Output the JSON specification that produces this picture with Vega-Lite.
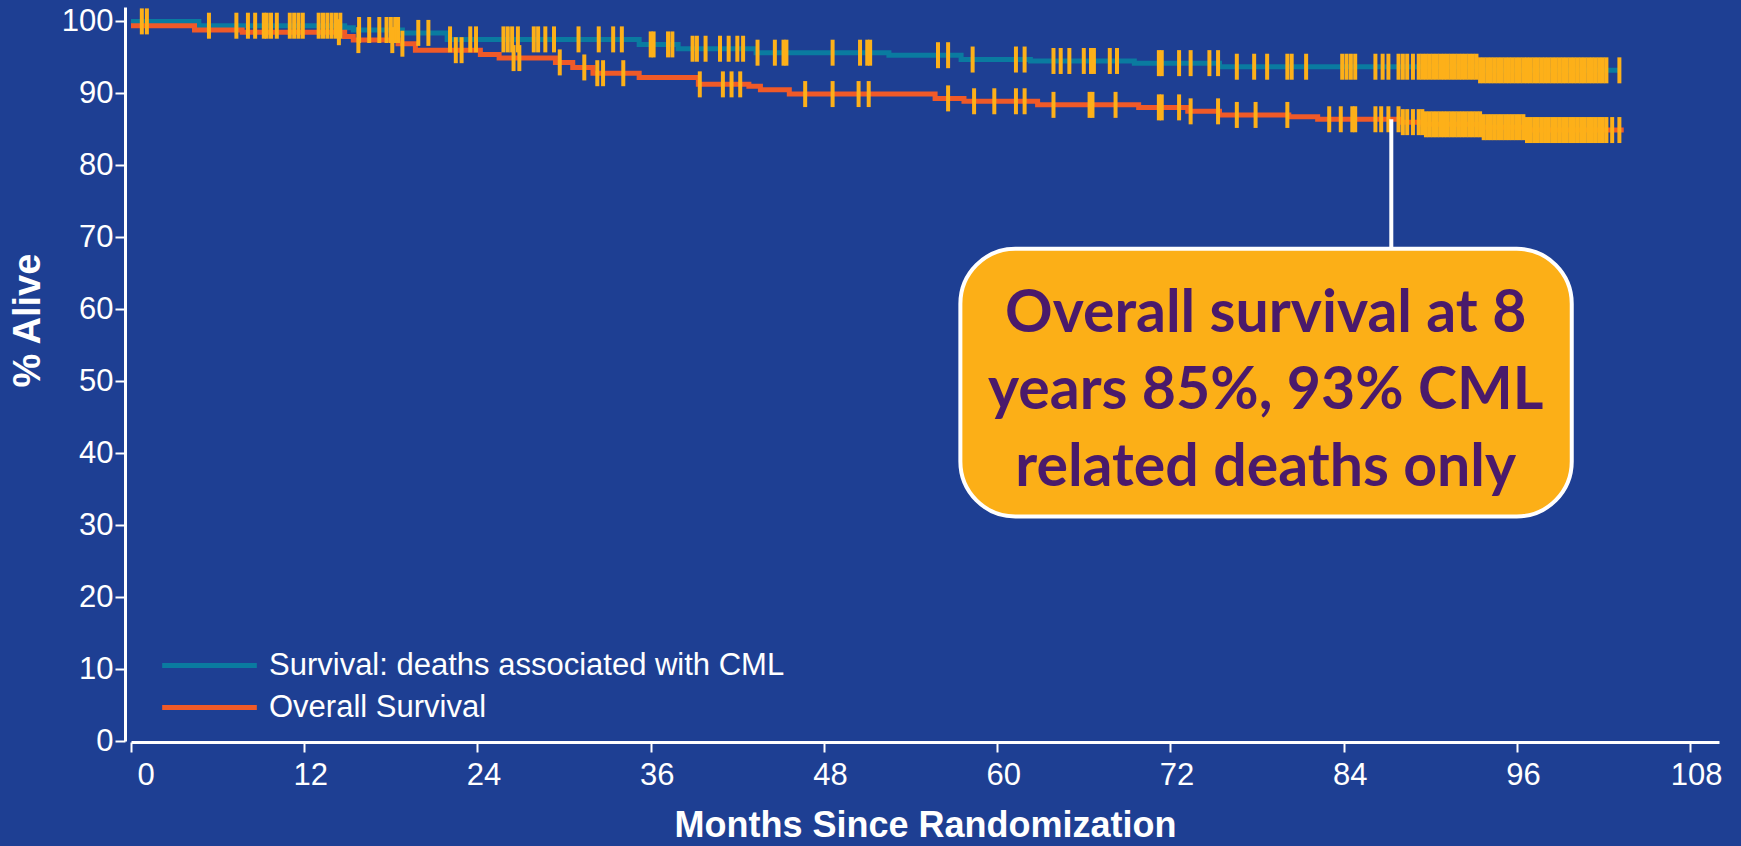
{
  "$schema": "https://vega.github.io/schema/vega-lite/v6.json",
  "width": 1588,
  "height": 734,
  "autosize": {"type": "none"},
  "padding": {"left": 131, "top": 7, "right": 22, "bottom": 105},
  "background": "#1E3F93",
  "config": {"view": {"stroke": null}, "font": "Liberation Sans"},
  "datasets": {
    "curves": [
      {"g": "Survival: deaths associated with CML", "t": 0, "s": 100},
      {"g": "Survival: deaths associated with CML", "t": 4.7, "s": 99.4},
      {"g": "Survival: deaths associated with CML", "t": 14.8, "s": 99.1},
      {"g": "Survival: deaths associated with CML", "t": 15.4, "s": 98.8},
      {"g": "Survival: deaths associated with CML", "t": 18.8, "s": 98.4},
      {"g": "Survival: deaths associated with CML", "t": 21.9, "s": 97.5},
      {"g": "Survival: deaths associated with CML", "t": 35.2, "s": 96.8},
      {"g": "Survival: deaths associated with CML", "t": 37.9, "s": 96.2},
      {"g": "Survival: deaths associated with CML", "t": 43.3, "s": 95.65},
      {"g": "Survival: deaths associated with CML", "t": 52.5, "s": 95.3},
      {"g": "Survival: deaths associated with CML", "t": 57.5, "s": 94.7},
      {"g": "Survival: deaths associated with CML", "t": 62.3, "s": 94.5},
      {"g": "Survival: deaths associated with CML", "t": 69.5, "s": 94.2},
      {"g": "Survival: deaths associated with CML", "t": 75.4, "s": 93.7},
      {"g": "Survival: deaths associated with CML", "t": 93.4, "s": 93.2},
      {"g": "Survival: deaths associated with CML", "t": 103.1, "s": 93.2},
      {"g": "Overall Survival", "t": 0, "s": 99.4},
      {"g": "Overall Survival", "t": 4.4, "s": 98.8},
      {"g": "Overall Survival", "t": 7.7, "s": 98.5},
      {"g": "Overall Survival", "t": 14.8, "s": 97.9},
      {"g": "Overall Survival", "t": 15.4, "s": 97.4},
      {"g": "Overall Survival", "t": 18.5, "s": 96.9},
      {"g": "Overall Survival", "t": 19.7, "s": 96.0},
      {"g": "Overall Survival", "t": 24.2, "s": 95.4},
      {"g": "Overall Survival", "t": 25.5, "s": 94.9},
      {"g": "Overall Survival", "t": 29.4, "s": 94.3},
      {"g": "Overall Survival", "t": 30.6, "s": 93.6},
      {"g": "Overall Survival", "t": 32.0, "s": 92.8},
      {"g": "Overall Survival", "t": 35.2, "s": 92.2},
      {"g": "Overall Survival", "t": 39.3, "s": 91.25},
      {"g": "Overall Survival", "t": 42.8, "s": 91.0},
      {"g": "Overall Survival", "t": 43.6, "s": 90.5},
      {"g": "Overall Survival", "t": 45.6, "s": 89.9},
      {"g": "Overall Survival", "t": 55.7, "s": 89.3},
      {"g": "Overall Survival", "t": 57.7, "s": 88.9},
      {"g": "Overall Survival", "t": 62.8, "s": 88.4},
      {"g": "Overall Survival", "t": 69.8, "s": 88.05},
      {"g": "Overall Survival", "t": 73.2, "s": 87.5},
      {"g": "Overall Survival", "t": 75.4, "s": 87.0},
      {"g": "Overall Survival", "t": 80.2, "s": 86.75},
      {"g": "Overall Survival", "t": 82.2, "s": 86.4},
      {"g": "Overall Survival", "t": 88.0, "s": 86.0},
      {"g": "Overall Survival", "t": 89.5, "s": 85.7},
      {"g": "Overall Survival", "t": 93.5, "s": 85.3},
      {"g": "Overall Survival", "t": 96.6, "s": 84.9},
      {"g": "Overall Survival", "t": 103.4, "s": 84.9}
    ],
    "censor": [
      {"t": 0.75, "s": 100}, {"t": 1.1, "s": 100}, {"t": 5.4, "s": 99.4}, {"t": 7.3, "s": 99.4},
      {"t": 8.1, "s": 99.4}, {"t": 8.6, "s": 99.4}, {"t": 9.2, "s": 99.4}, {"t": 9.4, "s": 99.4},
      {"t": 9.7, "s": 99.4}, {"t": 10.1, "s": 99.4}, {"t": 11.0, "s": 99.4}, {"t": 11.3, "s": 99.4},
      {"t": 11.6, "s": 99.4}, {"t": 11.9, "s": 99.4}, {"t": 13.0, "s": 99.4}, {"t": 13.3, "s": 99.4},
      {"t": 13.6, "s": 99.4}, {"t": 13.9, "s": 99.4}, {"t": 14.2, "s": 99.4}, {"t": 14.5, "s": 99.4},
      {"t": 15.8, "s": 98.8}, {"t": 16.5, "s": 98.8}, {"t": 17.2, "s": 98.8}, {"t": 17.7, "s": 98.8},
      {"t": 18.0, "s": 98.8}, {"t": 18.3, "s": 98.8}, {"t": 18.5, "s": 98.8}, {"t": 19.9, "s": 98.4},
      {"t": 20.6, "s": 98.4}, {"t": 22.1, "s": 97.5}, {"t": 23.5, "s": 97.5}, {"t": 23.9, "s": 97.5},
      {"t": 25.8, "s": 97.5}, {"t": 26.1, "s": 97.5}, {"t": 26.4, "s": 97.5}, {"t": 26.8, "s": 97.5},
      {"t": 27.9, "s": 97.5}, {"t": 28.2, "s": 97.5}, {"t": 28.7, "s": 97.5}, {"t": 29.3, "s": 97.5},
      {"t": 31.0, "s": 97.5}, {"t": 32.4, "s": 97.5}, {"t": 33.4, "s": 97.5}, {"t": 34.0, "s": 97.5},
      {"t": 36.0, "s": 96.8}, {"t": 36.2, "s": 96.8}, {"t": 37.2, "s": 96.8}, {"t": 37.5, "s": 96.8},
      {"t": 38.9, "s": 96.2}, {"t": 39.2, "s": 96.2}, {"t": 39.8, "s": 96.2}, {"t": 40.8, "s": 96.2},
      {"t": 41.4, "s": 96.2}, {"t": 42.0, "s": 96.2}, {"t": 42.4, "s": 96.2}, {"t": 43.4, "s": 95.65},
      {"t": 44.6, "s": 95.65}, {"t": 45.2, "s": 95.65}, {"t": 45.4, "s": 95.65}, {"t": 48.6, "s": 95.65},
      {"t": 50.5, "s": 95.65}, {"t": 51.0, "s": 95.65}, {"t": 51.2, "s": 95.65}, {"t": 55.9, "s": 95.3},
      {"t": 56.6, "s": 95.3}, {"t": 58.3, "s": 94.7}, {"t": 61.3, "s": 94.7}, {"t": 61.9, "s": 94.7},
      {"t": 63.9, "s": 94.5}, {"t": 64.4, "s": 94.5}, {"t": 65.0, "s": 94.5}, {"t": 66.0, "s": 94.5},
      {"t": 66.5, "s": 94.5}, {"t": 66.7, "s": 94.5}, {"t": 67.8, "s": 94.5}, {"t": 68.3, "s": 94.5},
      {"t": 71.2, "s": 94.2}, {"t": 71.4, "s": 94.2}, {"t": 72.6, "s": 94.2}, {"t": 73.4, "s": 94.2},
      {"t": 74.7, "s": 94.2}, {"t": 75.3, "s": 94.2}, {"t": 76.6, "s": 93.7}, {"t": 77.8, "s": 93.7},
      {"t": 78.7, "s": 93.7}, {"t": 80.1, "s": 93.7}, {"t": 80.4, "s": 93.7}, {"t": 81.4, "s": 93.7},
      {"t": 83.9, "s": 93.7}, {"t": 84.2, "s": 93.7}, {"t": 84.5, "s": 93.7}, {"t": 84.8, "s": 93.7},
      {"t": 86.2, "s": 93.7}, {"t": 86.7, "s": 93.7}, {"t": 87.1, "s": 93.7}, {"t": 87.8, "s": 93.7},
      {"t": 88.1, "s": 93.7}, {"t": 88.4, "s": 93.7}, {"t": 88.8, "s": 93.7},
      {"t": 89.2, "s": 93.7}, {"t": 89.45, "s": 93.7}, {"t": 89.7, "s": 93.7}, {"t": 89.95, "s": 93.7},
      {"t": 90.2, "s": 93.7}, {"t": 90.45, "s": 93.7}, {"t": 90.7, "s": 93.7}, {"t": 90.95, "s": 93.7},
      {"t": 91.2, "s": 93.7}, {"t": 91.45, "s": 93.7}, {"t": 91.7, "s": 93.7}, {"t": 91.95, "s": 93.7},
      {"t": 92.2, "s": 93.7}, {"t": 92.45, "s": 93.7}, {"t": 92.7, "s": 93.7}, {"t": 92.95, "s": 93.7},
      {"t": 93.2, "s": 93.7}, {"t": 93.45, "s": 93.2}, {"t": 93.7, "s": 93.2}, {"t": 93.95, "s": 93.2},
      {"t": 94.2, "s": 93.2}, {"t": 94.45, "s": 93.2}, {"t": 94.7, "s": 93.2}, {"t": 94.95, "s": 93.2},
      {"t": 95.2, "s": 93.2}, {"t": 95.45, "s": 93.2}, {"t": 95.7, "s": 93.2}, {"t": 95.95, "s": 93.2},
      {"t": 96.2, "s": 93.2}, {"t": 96.45, "s": 93.2}, {"t": 96.7, "s": 93.2}, {"t": 96.95, "s": 93.2},
      {"t": 97.2, "s": 93.2}, {"t": 97.45, "s": 93.2}, {"t": 97.7, "s": 93.2}, {"t": 97.95, "s": 93.2},
      {"t": 98.2, "s": 93.2}, {"t": 98.45, "s": 93.2}, {"t": 98.7, "s": 93.2}, {"t": 98.95, "s": 93.2},
      {"t": 99.2, "s": 93.2}, {"t": 99.45, "s": 93.2}, {"t": 99.7, "s": 93.2}, {"t": 99.95, "s": 93.2},
      {"t": 100.2, "s": 93.2}, {"t": 100.45, "s": 93.2}, {"t": 100.7, "s": 93.2}, {"t": 100.95, "s": 93.2},
      {"t": 101.2, "s": 93.2}, {"t": 101.45, "s": 93.2}, {"t": 101.7, "s": 93.2}, {"t": 101.95, "s": 93.2},
      {"t": 102.2, "s": 93.2}, {"t": 103.1, "s": 93.2},
      {"t": 14.4, "s": 98.5}, {"t": 15.75, "s": 97.4}, {"t": 18.1, "s": 97.4}, {"t": 18.8, "s": 96.9},
      {"t": 22.5, "s": 96.0}, {"t": 22.9, "s": 96.0}, {"t": 26.5, "s": 94.9}, {"t": 26.9, "s": 94.9},
      {"t": 29.7, "s": 94.3}, {"t": 31.4, "s": 93.6}, {"t": 32.3, "s": 92.8}, {"t": 32.7, "s": 92.8},
      {"t": 34.1, "s": 92.8}, {"t": 39.4, "s": 91.25}, {"t": 41.0, "s": 91.25}, {"t": 41.6, "s": 91.25},
      {"t": 42.2, "s": 91.25}, {"t": 46.7, "s": 89.9}, {"t": 48.6, "s": 89.9}, {"t": 50.4, "s": 89.9},
      {"t": 51.1, "s": 89.9}, {"t": 56.6, "s": 89.3}, {"t": 58.4, "s": 88.9}, {"t": 59.8, "s": 88.9},
      {"t": 61.3, "s": 88.9}, {"t": 61.9, "s": 88.9}, {"t": 63.9, "s": 88.4}, {"t": 66.4, "s": 88.4},
      {"t": 66.6, "s": 88.4}, {"t": 68.2, "s": 88.4}, {"t": 71.2, "s": 88.05}, {"t": 71.4, "s": 88.05},
      {"t": 72.6, "s": 88.05}, {"t": 73.4, "s": 87.5}, {"t": 75.3, "s": 87.5}, {"t": 76.6, "s": 87.0},
      {"t": 77.9, "s": 87.0}, {"t": 80.1, "s": 87.0}, {"t": 83.0, "s": 86.4}, {"t": 83.8, "s": 86.4},
      {"t": 84.6, "s": 86.4}, {"t": 84.8, "s": 86.4}, {"t": 86.2, "s": 86.4}, {"t": 86.6, "s": 86.4},
      {"t": 87.1, "s": 86.4}, {"t": 87.8, "s": 86.4}, {"t": 88.1, "s": 86.0}, {"t": 88.4, "s": 86.0},
      {"t": 88.8, "s": 86.0}, {"t": 89.2, "s": 86.0}, {"t": 89.45, "s": 86.0},
      {"t": 89.7, "s": 85.7}, {"t": 89.95, "s": 85.7}, {"t": 90.2, "s": 85.7}, {"t": 90.45, "s": 85.7},
      {"t": 90.7, "s": 85.7}, {"t": 90.95, "s": 85.7}, {"t": 91.2, "s": 85.7}, {"t": 91.45, "s": 85.7},
      {"t": 91.7, "s": 85.7}, {"t": 91.95, "s": 85.7}, {"t": 92.2, "s": 85.7}, {"t": 92.45, "s": 85.7},
      {"t": 92.7, "s": 85.7}, {"t": 92.95, "s": 85.7}, {"t": 93.2, "s": 85.7}, {"t": 93.45, "s": 85.7},
      {"t": 93.7, "s": 85.3}, {"t": 93.95, "s": 85.3}, {"t": 94.2, "s": 85.3}, {"t": 94.45, "s": 85.3},
      {"t": 94.7, "s": 85.3}, {"t": 94.95, "s": 85.3}, {"t": 95.2, "s": 85.3}, {"t": 95.45, "s": 85.3},
      {"t": 95.7, "s": 85.3}, {"t": 95.95, "s": 85.3}, {"t": 96.2, "s": 85.3}, {"t": 96.45, "s": 85.3},
      {"t": 96.7, "s": 84.9}, {"t": 96.95, "s": 84.9}, {"t": 97.2, "s": 84.9}, {"t": 97.45, "s": 84.9},
      {"t": 97.7, "s": 84.9}, {"t": 97.95, "s": 84.9}, {"t": 98.2, "s": 84.9}, {"t": 98.45, "s": 84.9},
      {"t": 98.7, "s": 84.9}, {"t": 98.95, "s": 84.9}, {"t": 99.2, "s": 84.9}, {"t": 99.45, "s": 84.9},
      {"t": 99.7, "s": 84.9}, {"t": 99.95, "s": 84.9}, {"t": 100.2, "s": 84.9}, {"t": 100.45, "s": 84.9},
      {"t": 100.7, "s": 84.9}, {"t": 100.95, "s": 84.9}, {"t": 101.2, "s": 84.9}, {"t": 101.45, "s": 84.9},
      {"t": 101.7, "s": 84.9}, {"t": 101.95, "s": 84.9}, {"t": 102.2, "s": 84.9}, {"t": 102.6, "s": 84.9},
      {"t": 103.1, "s": 84.9}
    ],
    "stem": [{"t": 87.3, "top": 86.4, "bottom": 68.4}],
    "box": [{"x1": 57.45, "x2": 99.8, "y1": 68.4, "y2": 31.2, "tx": 78.6, "ty": 59.3,
             "label": "Overall survival at 8\nyears 85%, 93% CML\nrelated deaths only"}]
  },
  "layer": [
    {
      "data": {"name": "curves"},
      "mark": {"type": "line", "interpolate": "step-after", "strokeWidth": 5},
      "encoding": {
        "x": {
          "field": "t", "type": "quantitative",
          "scale": {"domain": [0, 110], "nice": false},
          "axis": {
            "values": [0, 12, 24, 36, 48, 60, 72, 84, 96, 108],
            "title": "Months Since Randomization",
            "titleFontSize": 36, "titleFontWeight": "bold", "titleColor": "white",
            "titleFont": "Liberation Sans", "titleY": 94, "titleBaseline": "alphabetic",
            "labelColor": "white", "labelFontSize": 31, "labelFont": "Liberation Sans",
            "labelPadding": 8, "labelOffset": 6, "tickColor": "white", "tickSize": 10, "tickWidth": 2,
            "domainColor": "white", "domainWidth": 3, "grid": false, "offset": 1
          }
        },
        "y": {
          "field": "s", "type": "quantitative",
          "scale": {"domain": [0, 102], "nice": false},
          "axis": {
            "values": [0, 10, 20, 30, 40, 50, 60, 70, 80, 90, 100],
            "title": "% Alive",
            "titleFontSize": 38, "titleFontWeight": "bold", "titleColor": "white",
            "titleFont": "Liberation Sans", "titleAngle": 270, "titleX": -97, "titleY": 313,
            "titleAlign": "center", "titleBaseline": "middle",
            "labelColor": "white", "labelFontSize": 31, "labelFont": "Liberation Sans",
            "labelPadding": 2, "tickColor": "white", "tickSize": 10, "tickWidth": 2,
            "domainColor": "white", "domainWidth": 3, "grid": false, "offset": 6
          }
        },
        "color": {
          "field": "g", "type": "nominal",
          "scale": {
            "domain": ["Survival: deaths associated with CML", "Overall Survival"],
            "range": ["#0A7BA0", "#F05A28"]
          },
          "legend": {
            "orient": "none", "legendX": 63, "legendY": 643, "title": null,
            "symbolType": "M-4,0H4", "symbolSize": 560, "symbolStrokeWidth": 5,
            "labelFontSize": 31, "labelColor": "white", "labelFont": "Liberation Sans",
            "labelOffset": 44, "rowPadding": 10, "padding": 0, "labelLimit": 800
          }
        }
      }
    },
    {
      "data": {"name": "censor"},
      "mark": {"type": "tick", "orient": "vertical", "color": "#FDB019", "opacity": 1, "size": 26, "thickness": 4},
      "encoding": {
        "x": {"field": "t", "type": "quantitative"},
        "y": {"field": "s", "type": "quantitative"}
      }
    },
    {
      "data": {"name": "stem"},
      "mark": {"type": "rule", "color": "white", "strokeWidth": 4},
      "encoding": {
        "x": {"field": "t", "type": "quantitative"},
        "y": {"field": "top", "type": "quantitative"},
        "y2": {"field": "bottom"}
      }
    },
    {
      "data": {"name": "box"},
      "mark": {"type": "rect", "fill": "#FCAF17", "stroke": "white", "strokeWidth": 4, "cornerRadius": 55},
      "encoding": {
        "x": {"field": "x1", "type": "quantitative"},
        "x2": {"field": "x2"},
        "y": {"field": "y1", "type": "quantitative"},
        "y2": {"field": "y2"}
      }
    },
    {
      "data": {"name": "box"},
      "mark": {"type": "text", "font": "Lato", "fontWeight": "bold", "fontSize": 59, "color": "#4A1A6B",
               "lineBreak": "\n", "lineHeight": 77, "align": "center", "baseline": "middle"},
      "encoding": {
        "x": {"field": "tx", "type": "quantitative"},
        "y": {"field": "ty", "type": "quantitative"},
        "text": {"field": "label"}
      }
    }
  ]
}
